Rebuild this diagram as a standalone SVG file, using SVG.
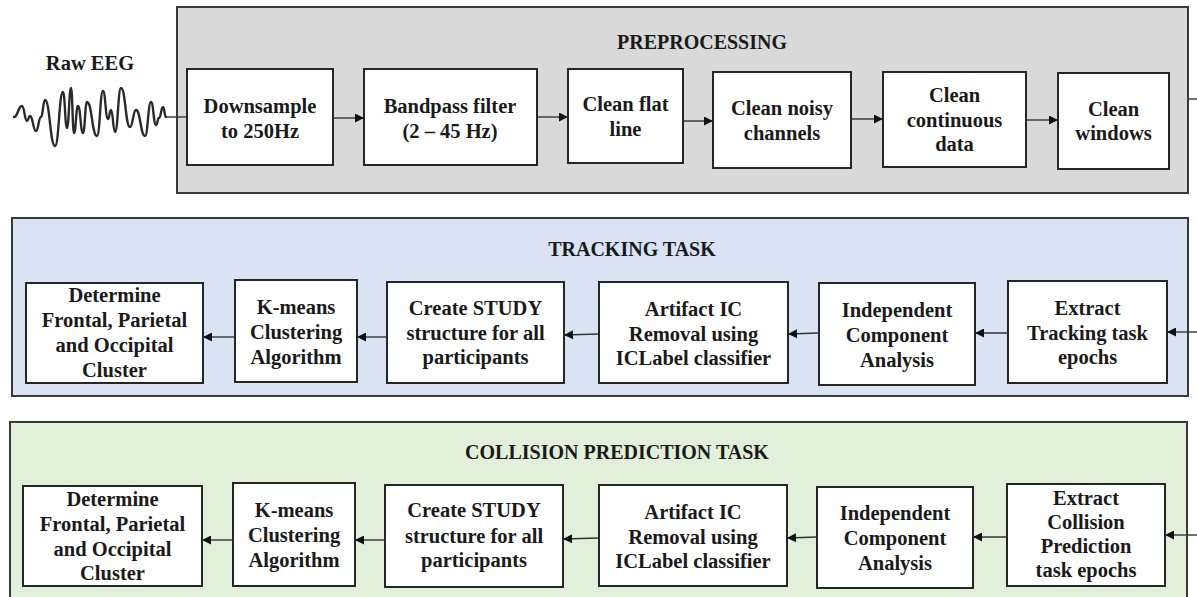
<svg xmlns="http://www.w3.org/2000/svg" width="1197" height="597" viewBox="0 0 1197 597">
  <style>
    .panel { stroke: #3a3a3a; stroke-width: 2; }
    .pre { fill: #d9d9d9; }
    .trk { fill: #dae3f3; }
    .col { fill: #e2efda; }
    .box { fill: #ffffff; stroke: #262626; stroke-width: 2; }
    text { font-family: "Liberation Serif", "Times New Roman", serif; font-weight: bold; font-size: 20.5px; fill: #1a1a1a; text-anchor: middle; }
    .title { font-size: 20px; }
    .link { fill: none; stroke: #333333; stroke-width: 1.4; }
    .wave { fill: none; stroke: #2a2a2a; stroke-width: 2.4; stroke-linejoin: round; stroke-linecap: round; }
  </style>
  <defs>
    <marker id="arrow" viewBox="0 0 10 10" refX="10" refY="5" markerWidth="11" markerHeight="9" markerUnits="userSpaceOnUse" orient="auto">
      <path d="M0,0 L10,5 L0,10 Z" fill="#111111"/>
    </marker>
  </defs>

  <rect width="1197" height="597" fill="#ffffff"/>

  <!-- stage panels -->
  <g id="panel-preprocessing">
    <rect class="panel pre" x="177" y="7" width="1011" height="186"/>
    <text class="title" x="702" y="49">PREPROCESSING</text>
  </g>
  <g id="panel-tracking">
    <rect class="panel trk" x="12" y="218" width="1176" height="178"/>
    <text class="title" x="632" y="256">TRACKING TASK</text>
  </g>
  <g id="panel-collision">
    <rect class="panel col" x="10" y="422" width="1177" height="190"/>
    <text class="title" x="617" y="459">COLLISION PREDICTION TASK</text>
  </g>

  <!-- raw signal: smooth oscillation built from extremum-to-extremum cubic segments -->
  <g id="raw-eeg">
    <text x="90" y="70">Raw EEG</text>
    <path class="wave" d="M14,117
      C18,117 18,106 22,106
      C24.5,106 24.5,121 27,121
      C28.5,121 28.5,116 30,116
      C33,116 33,131 36,131
      C38.5,131 38.5,117 41,117
      C43,117 43,100 45,100
      C50,100 50,146 55,146
      C59,146 59,92 63,92
      C65,92 65,128 67,128
      C69,128 69,88 71,88
      C72.5,88 72.5,133 74,133
      C76,133 76,106 78,106
      C80.5,106 80.5,133 83,133
      C85,133 85,102 87,102
      C92,102 92,136 97,136
      C100,136 100,91 103,91
      C105.5,91 105.5,119 108,119
      C109.5,119 109.5,110 111,110
      C113,110 113,132 115,132
      C118,132 118,88 121,88
      C125.5,88 125.5,127 130,127
      C133,127 133,110 136,110
      C140.5,110 140.5,136 145,136
      C148,136 148,102 151,102
      C153.5,102 153.5,125 156,125
      C157.5,125 157.5,118 159,118
      C161,118 161,107 163,107
      C164.5,107 164.5,117 166,117"/>
  </g>

  <!-- preprocessing steps -->
  <g id="downsample">
    <rect class="box" x="187" y="69" width="146" height="96"/>
    <text x="260" y="113">Downsample</text>
    <text x="260" y="138">to 250Hz</text>
  </g>
  <g id="bandpass">
    <rect class="box" x="364" y="69" width="173" height="96"/>
    <text x="450" y="113">Bandpass filter</text>
    <text x="450" y="138">(2 – 45 Hz)</text>
  </g>
  <g id="clean-flat-line">
    <rect class="box" x="568" y="69" width="115" height="94"/>
    <text x="625.5" y="111">Clean flat</text>
    <text x="625.5" y="136">line</text>
  </g>
  <g id="clean-noisy-channels">
    <rect class="box" x="713" y="72" width="138" height="96"/>
    <text x="782" y="115">Clean noisy</text>
    <text x="782" y="140">channels</text>
  </g>
  <g id="clean-continuous-data">
    <rect class="box" x="883" y="72" width="143" height="95"/>
    <text x="954.5" y="102">Clean</text>
    <text x="954.5" y="127">continuous</text>
    <text x="954.5" y="151">data</text>
  </g>
  <g id="clean-windows">
    <rect class="box" x="1058" y="73" width="111" height="96"/>
    <text x="1113.5" y="116">Clean</text>
    <text x="1113.5" y="140">windows</text>
  </g>

  <!-- tracking task steps -->
  <g id="trk-extract">
    <rect class="box" x="1008" y="281" width="159" height="102"/>
    <text x="1087.5" y="315">Extract</text>
    <text x="1087.5" y="340">Tracking task</text>
    <text x="1087.5" y="364">epochs</text>
  </g>
  <g id="trk-ica">
    <rect class="box" x="819" y="283" width="156" height="102"/>
    <text x="897" y="317">Independent</text>
    <text x="897" y="342">Component</text>
    <text x="897" y="367">Analysis</text>
  </g>
  <g id="trk-iclabel">
    <rect class="box" x="599" y="282" width="189" height="101"/>
    <text x="693.5" y="316">Artifact IC</text>
    <text x="693.5" y="341">Removal using</text>
    <text x="693.5" y="365">ICLabel classifier</text>
  </g>
  <g id="trk-study">
    <rect class="box" x="387" y="282" width="177" height="101"/>
    <text x="475.5" y="315">Create STUDY</text>
    <text x="475.5" y="340">structure for all</text>
    <text x="475.5" y="364">participants</text>
  </g>
  <g id="trk-kmeans">
    <rect class="box" x="235" y="280" width="122" height="102"/>
    <text x="296" y="314">K-means</text>
    <text x="296" y="339">Clustering</text>
    <text x="296" y="364">Algorithm</text>
  </g>
  <g id="trk-clusters">
    <rect class="box" x="26" y="283" width="177" height="100"/>
    <text x="114.5" y="302">Determine</text>
    <text x="114.5" y="327">Frontal, Parietal</text>
    <text x="114.5" y="352">and Occipital</text>
    <text x="114.5" y="377">Cluster</text>
  </g>

  <!-- collision prediction task steps -->
  <g id="col-extract">
    <rect class="box" x="1007" y="484" width="158" height="102"/>
    <text x="1086" y="505">Extract</text>
    <text x="1086" y="529">Collision</text>
    <text x="1086" y="553">Prediction</text>
    <text x="1086" y="577">task epochs</text>
  </g>
  <g id="col-ica">
    <rect class="box" x="817" y="487" width="156" height="101"/>
    <text x="895" y="520">Independent</text>
    <text x="895" y="545">Component</text>
    <text x="895" y="570">Analysis</text>
  </g>
  <g id="col-iclabel">
    <rect class="box" x="599" y="485" width="188" height="101"/>
    <text x="693" y="519">Artifact IC</text>
    <text x="693" y="544">Removal using</text>
    <text x="693" y="568">ICLabel classifier</text>
  </g>
  <g id="col-study">
    <rect class="box" x="385" y="485" width="178" height="102"/>
    <text x="474" y="517">Create STUDY</text>
    <text x="474" y="543">structure for all</text>
    <text x="474" y="567">participants</text>
  </g>
  <g id="col-kmeans">
    <rect class="box" x="233" y="483" width="122" height="103"/>
    <text x="294" y="517">K-means</text>
    <text x="294" y="542">Clustering</text>
    <text x="294" y="567">Algorithm</text>
  </g>
  <g id="col-clusters">
    <rect class="box" x="23" y="486" width="179" height="100"/>
    <text x="112.5" y="506">Determine</text>
    <text x="112.5" y="531">Frontal, Parietal</text>
    <text x="112.5" y="556">and Occipital</text>
    <text x="112.5" y="580">Cluster</text>
  </g>

  <!-- connectors -->
  <g id="connectors">
    <line class="link" x1="166" y1="117" x2="187" y2="117"/>
    <line class="link" x1="333" y1="118" x2="364" y2="118" marker-end="url(#arrow)"/>
    <line class="link" x1="537" y1="117" x2="568" y2="117" marker-end="url(#arrow)"/>
    <line class="link" x1="683" y1="121" x2="713" y2="121" marker-end="url(#arrow)"/>
    <line class="link" x1="851" y1="119" x2="883" y2="119" marker-end="url(#arrow)"/>
    <line class="link" x1="1026" y1="120" x2="1058" y2="120" marker-end="url(#arrow)"/>
    <line class="link" x1="1188" y1="99" x2="1197" y2="99"/>

    <line class="link" x1="1197" y1="332" x2="1167" y2="332" marker-end="url(#arrow)"/>
    <line class="link" x1="1008" y1="333" x2="975" y2="333" marker-end="url(#arrow)"/>
    <line class="link" x1="819" y1="333" x2="788" y2="334" marker-end="url(#arrow)"/>
    <line class="link" x1="599" y1="334" x2="564" y2="335" marker-end="url(#arrow)"/>
    <line class="link" x1="387" y1="337" x2="357" y2="337" marker-end="url(#arrow)"/>
    <line class="link" x1="235" y1="337" x2="203" y2="337" marker-end="url(#arrow)"/>

    <line class="link" x1="1197" y1="535" x2="1165" y2="535" marker-end="url(#arrow)"/>
    <line class="link" x1="1007" y1="537" x2="973" y2="537" marker-end="url(#arrow)"/>
    <line class="link" x1="817" y1="537" x2="787" y2="538" marker-end="url(#arrow)"/>
    <line class="link" x1="599" y1="538" x2="563" y2="539" marker-end="url(#arrow)"/>
    <line class="link" x1="385" y1="540" x2="355" y2="540" marker-end="url(#arrow)"/>
    <line class="link" x1="233" y1="540" x2="202" y2="540" marker-end="url(#arrow)"/>
  </g>
</svg>
